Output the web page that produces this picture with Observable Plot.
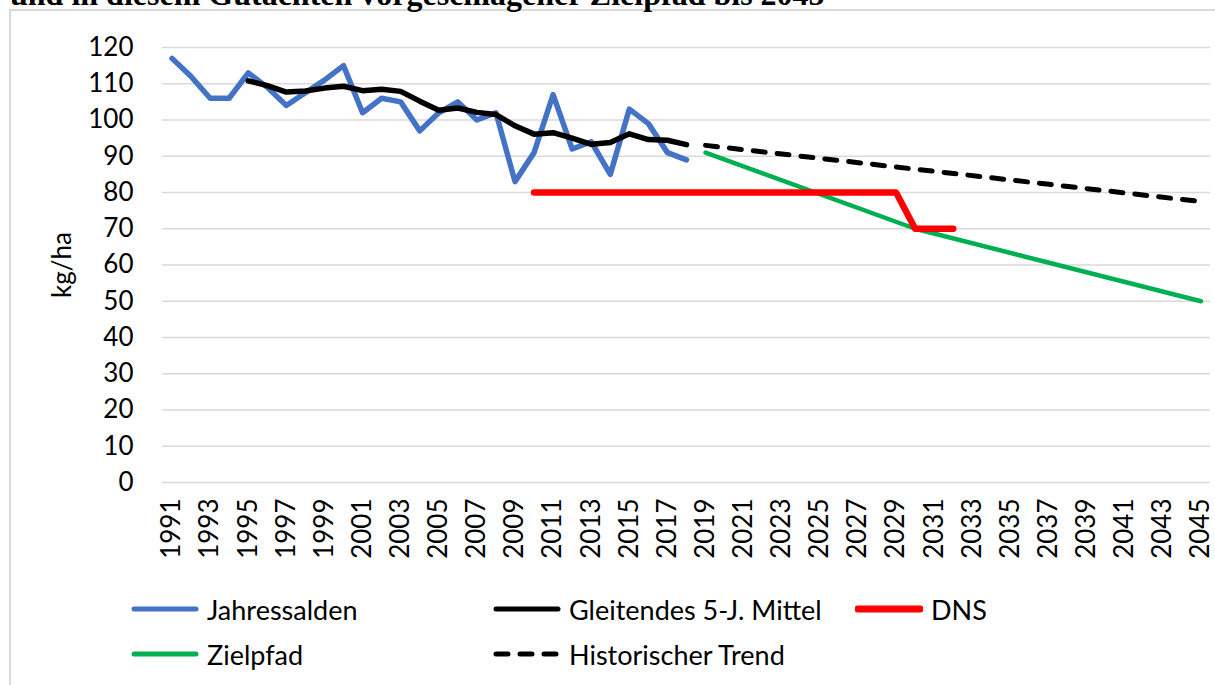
<!DOCTYPE html>
<html><head><meta charset="utf-8">
<script src="https://cdn.jsdelivr.net/npm/d3@7"></script>
<script src="https://cdn.jsdelivr.net/npm/@observablehq/plot@0.6"></script>
<style>
body{margin:0;background:#fff;}
#wrap{position:relative;width:1215px;height:685px;overflow:hidden;font-family:Lato,sans-serif;background:#fff;}
#title{position:absolute;left:10px;top:-22px;font:bold 32px "Liberation Serif",serif;line-height:32px;white-space:nowrap;color:#000;}
#frame{position:absolute;left:9px;top:9px;width:1300px;height:800px;border:2px solid #d9d9d9;}
#chart{position:absolute;left:0;top:0;}
.leg{position:absolute;display:flex;align-items:center;font-size:27px;color:#000;white-space:nowrap;height:30px;}
.leg svg{margin-right:8px;}
</style></head><body>
<div id="wrap"><div id="frame"></div><div id="title">und in diesem Gutachten vorgeschlagener Zielpfad bis 2045</div><div id="chart"></div><div id="legend"></div></div>
<script>
// ---- data ----
const jahrYears = [1991,1992,1993,1994,1995,1996,1997,1998,1999,2000,2001,2002,2003,2004,2005,2006,2007,2008,2009,2010,2011,2012,2013,2014,2015,2016,2017,2018];
const jahrValues = [117,112,106,106,113,109,104,107.5,111,115,102,106,105,97,102,105,100,102,83,91,107,92,94,85,103,99,91,89];
const mittelYears = [1995,1996,1997,1998,1999,2000,2001,2002,2003,2004,2005,2006,2007,2008,2009,2010,2011,2012,2013,2014,2015,2016,2017,2018];
const mittelValues = [110.8,109.5,107.7,108,108.8,109.3,108.1,108.5,107.9,105.2,102.7,103.3,102.1,101.5,98.4,96.1,96.5,95,93.3,93.8,96.2,94.6,94.4,93.2];
const dnsYears = [2010,2029,2030,2032];
const dnsValues = [80,80,70,70];
const zielYears = [2019,2030,2045];
const zielValues = [91,70,50];
const trendYears = [2019,2045];
const trendValues = [93,77.5];
const yTicks = [0,10,20,30,40,50,60,70,80,90,100,110,120];
const xTicks = [1991,1993,1995,1997,1999,2001,2003,2005,2007,2009,2011,2013,2015,2017,2019,2021,2023,2025,2027,2029,2031,2033,2035,2037,2039,2041,2043,2045];
const seriesNames = ["Jahressalden","Gleitendes 5-J. Mittel","DNS","Zielpfad","Historischer Trend"];
const seriesColors = ["#4472C4","#000000","#FF0000","#00B050","#000000"];

const toRows = (xs, vs) => xs.map((x, i) => ({year: x, value: vs[i]}));
const jahr = toRows(jahrYears, jahrValues);
const mittel = toRows(mittelYears, mittelValues);
const dns = toRows(dnsYears, dnsValues);
const ziel = toRows(zielYears, zielValues);
const trend = toRows(trendYears, trendValues);

const common = {x: "year", y: "value", strokeLinejoin: "round", strokeLinecap: "round"};

const chart = Plot.plot({
  width: 1215,
  height: 590,
  marginLeft: 162,
  marginRight: 5,
  marginTop: 47,
  marginBottom: 108,
  x: {domain: [1990.5, 2045.5]},
  y: {domain: [0, 120]},
  style: {fontFamily: "Lato, sans-serif", fontSize: "26px", color: "#000", background: "transparent", overflow: "visible"},
  marks: [
    Plot.ruleY(yTicks, {stroke: "#d9d9d9", strokeWidth: 1.5}),
    Plot.axisY(yTicks, {tickSize: 0, tickPadding: 29, label: "kg/ha", labelAnchor: "center", labelArrow: "none", labelOffset: 110, fontSize: 26}),
    Plot.axisX(xTicks, {tickSize: 0, tickRotate: -90, tickPadding: 16, tickFormat: d => String(d), label: null, fontSize: 26}),
    Plot.line(trend, {...common, stroke: seriesColors[4], strokeWidth: 5, strokeDasharray: "12,12"}),
    Plot.line(ziel, {...common, stroke: seriesColors[3], strokeWidth: 4.5}),
    Plot.line(dns, {...common, stroke: seriesColors[2], strokeWidth: 6.5}),
    Plot.line(jahr, {...common, stroke: seriesColors[0], strokeWidth: 5.5}),
    Plot.line(mittel, {...common, stroke: seriesColors[1], strokeWidth: 5.5})
  ]
});
document.getElementById("chart").appendChild(chart);

// ---- legend ----
const legPos = [[131,594],[493,594],[855,594],[131,639],[493,639]];
const legend = document.getElementById("legend");
seriesNames.forEach((name, i) => {
  const div = document.createElement("div");
  div.className = "leg";
  div.style.left = legPos[i][0] + "px";
  div.style.top = legPos[i][1] + "px";
  const dash = i === 4 ? ' stroke-dasharray="12,12"' : '';
  const w = i === 2 ? 7 : 5;
  div.innerHTML = `<svg width="68" height="12"><line x1="3" y1="6" x2="65" y2="6" stroke="${seriesColors[i]}" stroke-width="${w}" stroke-linecap="round"${dash}/></svg><span>${name}</span>`;
  legend.appendChild(div);
});
</script>
</body></html>
